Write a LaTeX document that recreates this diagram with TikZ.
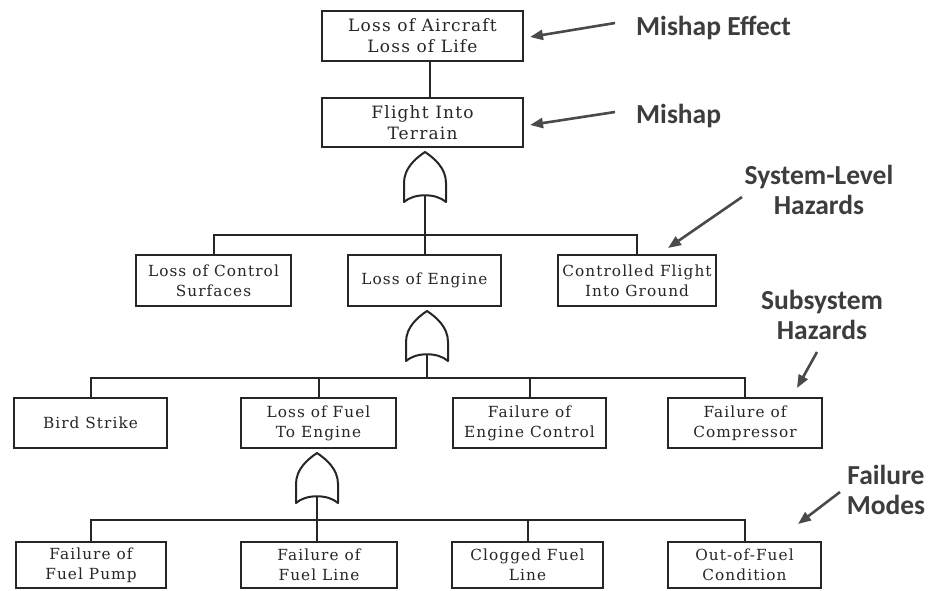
\documentclass[tikz,border=0pt]{standalone}
\usepackage{fontspec}
\setmainfont{DejaVu Serif}[LetterSpace=7]
\newfontfamily\lblfont{Carlito}
\usetikzlibrary{arrows.meta,calc}
\definecolor{ink}{HTML}{262626}
\definecolor{lblgray}{HTML}{3D3D3D}
\definecolor{arrgray}{HTML}{4A4A4A}
\tikzset{
  box/.style={draw=ink, line width=2pt, align=center, inner sep=0pt,
    font=\fontsize{15.3}{20}\selectfont, text=ink},
  bigbox/.style={box, font=\fontsize{17}{21}\selectfont},
  link/.style={draw=ink, line width=2pt},
  gateline/.style={draw=ink, line width=2pt, line join=round},
  lbl/.style={font=\lblfont\bfseries\fontsize{27.5}{30}\selectfont, text=lblgray,
    inner sep=0pt, align=center},
  pointer/.style={draw=arrgray, line width=2.6pt, -{Triangle[length=13pt,width=10pt]}},
  orgate/.pic={
    \draw[gateline] (0,0) .. controls (9,6) and (21,16) .. (21,31) -- (21,50)
      .. controls (11,41) and (-11,41) .. (-21,50) -- (-21,31)
      .. controls (-21,16) and (-9,6) .. cycle;
    \coordinate (-out) at (0,44);
  }
}
\begin{document}
\begin{tikzpicture}[x=1pt,y=-1pt]
\fill[white] (0,0) rectangle (929,590);
\useasboundingbox (0,0) rectangle (929,590);

% boxes
\node[bigbox, minimum width=201pt, minimum height=50pt] (top) at (422.5,36) {Loss of Aircraft\\Loss of Life};
\node[bigbox, minimum width=201pt, minimum height=49pt] (mid) at (422.5,122.5) {Flight Into\\Terrain};

\node[box, minimum width=155pt, minimum height=51pt] (LCS) at (213.5,280.5) {Loss of Control\\Surfaces};
\node[box, minimum width=153pt, minimum height=51pt] (LE) at (424.5,280.5) {Loss of Engine};
\node[box, minimum width=158pt, minimum height=51pt] (CFG) at (637,280.5) {Controlled Flight\\Into Ground};

\node[box, minimum width=153pt, minimum height=50pt] (BS) at (90.5,423) {Bird Strike};
\node[box, minimum width=155pt, minimum height=50pt] (LF) at (318.5,423) {Loss of Fuel\\To Engine};
\node[box, minimum width=153pt, minimum height=50pt] (EC) at (529.5,423) {Failure of\\Engine Control};
\node[box, minimum width=154pt, minimum height=50pt] (CP) at (745,423) {Failure of\\Compressor};

\node[box, minimum width=150pt, minimum height=46pt] (FP) at (91,565) {Failure of\\Fuel Pump};
\node[box, minimum width=156pt, minimum height=46pt] (FL) at (319,565) {Failure of\\Fuel Line};
\node[box, minimum width=151pt, minimum height=46pt] (CL) at (527.5,565) {Clogged Fuel\\Line};
\node[box, minimum width=153pt, minimum height=46pt] (OF) at (744.5,565) {Out-of-Fuel\\Condition};

% gates
\pic (g1) at (425,152) {orgate};
\pic (g2) at (427,311) {orgate};
\pic (g3) at (317,453) {orgate};

% bar levels
\coordinate (b1) at (0,235);
\coordinate (b2) at (0,378);
\coordinate (b3) at (0,520);

% connectors
\draw[link] ([xshift=7pt]top.south) -- ([xshift=7pt]mid.north);

\draw[link] (g1-out) -- (g1-out |- LE.north);
\draw[link] (LCS.north) |- (g1-out |- b1);
\draw[link] (CFG.north) |- (g1-out |- b1);

\draw[link] (g2-out) -- (g2-out |- b2);
\draw[link] (BS.north) |- (g2-out |- b2);
\draw[link] (CP.north) |- (g2-out |- b2);
\draw[link] (LF.north) -- (LF.north |- b2);
\draw[link] (EC.north) -- (EC.north |- b2);

\draw[link] (g3-out) -- (g3-out |- FL.north);
\draw[link] (FP.north) |- (g3-out |- b3);
\draw[link] (OF.north) |- (g3-out |- b3);
\draw[link] (CL.north) -- (CL.north |- b3);

% labels
\node[lbl, anchor=base west] (effect) at (636,35) {Mishap Effect};
\node[lbl, anchor=base west] (mishap) at (636,123) {Mishap};
\node[lbl, anchor=south] (syslvl) at (819,215) {System-Level\\Hazards};
\node[lbl, anchor=south] (subsys) at (822,340) {Subsystem\\Hazards};
\node[lbl, anchor=south] (fmodes) at (886,515) {Failure\\Modes};

% pointer arrows
\coordinate (a1s) at (615,23);  \coordinate (a1e) at (530,37);
\coordinate (a2s) at (615,112); \coordinate (a2e) at (530,125);
\coordinate (a3s) at (742,197); \coordinate (a3e) at (668,248);
\coordinate (a4s) at (817,352); \coordinate (a4e) at (797,388);
\coordinate (a5s) at (840,492); \coordinate (a5e) at (798,524);
\draw[pointer] (a1s) -- (a1e);
\draw[pointer] (a2s) -- (a2e);
\draw[pointer] (a3s) -- (a3e);
\draw[pointer] (a4s) -- (a4e);
\draw[pointer] (a5s) -- (a5e);
\end{tikzpicture}
\end{document}
